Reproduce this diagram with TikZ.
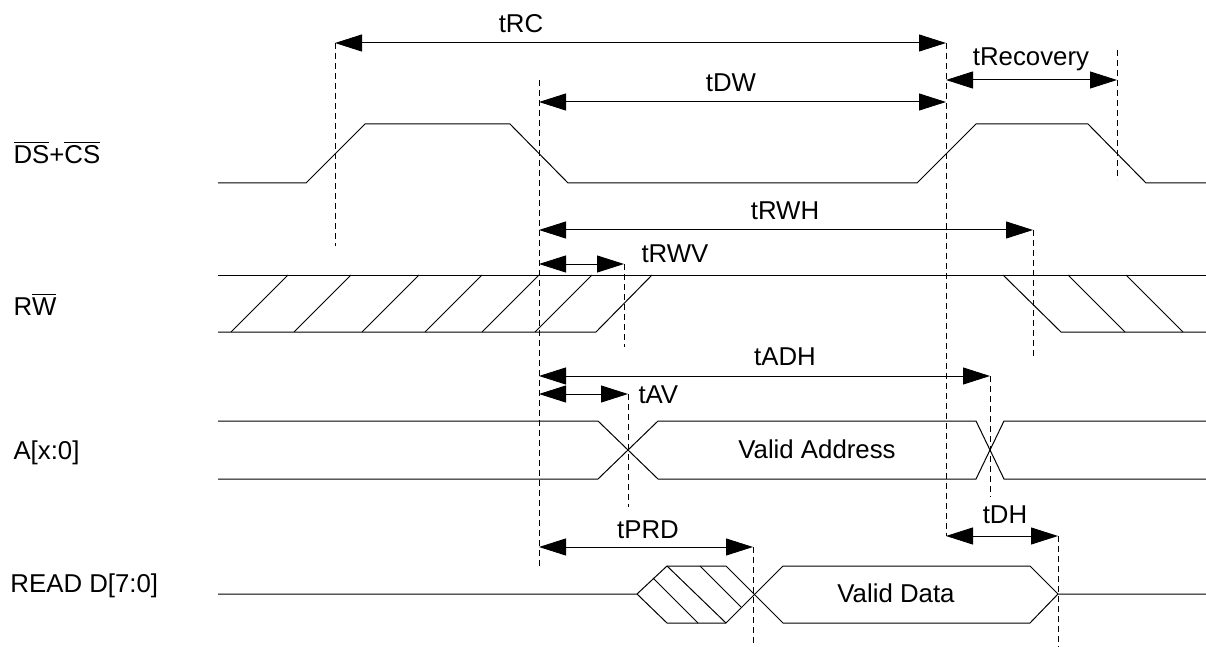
\documentclass[tikz,border=0pt]{standalone}
\usepackage{fontspec}
\setmainfont{Liberation Sans}
\usetikzlibrary{arrows.meta}

\begin{document}
\begin{tikzpicture}[x=0.5pt, y=-0.5pt, line width=0.5pt,
    >={Triangle[length=13.5pt, width=8.5pt]},
    markline/.style={dashed, dash pattern=on 3pt off 2pt},
    lbl/.style={font=\fontsize{12.9}{15}\selectfont, inner sep=0pt, anchor=base}]

    \useasboundingbox (0,0) rectangle (1206,647);

    % Signal names
    \node[lbl, anchor=base west] (sDS) at (13,163) {$\overline{\hbox{DS}}$+$\overline{\hbox{CS}}$};
    \node[lbl, anchor=base west] (sRW) at (13,315) {R$\overline{\hbox{W}}$};
    \node[lbl, anchor=base west] (sA) at (13,459) {A[x:0]};
    \node[lbl, anchor=base west] (sD) at (10,592) {READ D[7:0]};

    % DS+CS
    \draw (218,183) -- (306,183) -- (365,124) -- (510,124) -- (568,183) -- (917,183)
        -- (976,124) -- (1088,124) -- (1146,183) -- (1206,183);

    % RW, don't care up to tRWV and after tRWH
    \draw (218,275) -- (1206,275);
    \draw (218,332) -- (596,332) -- (652,275);
    \foreach \b in {231,294,362,425,482,535}
        \draw (\b,332) -- ++(57,-57);
    \draw (1003,275) -- (1061,332) -- (1206,332);
    \foreach \t in {1068,1126}
        \draw (\t,275) -- ++(57,57);

    % A[x:0]
    \draw (218,421) -- (598,421) -- (658,479) -- (976,479) -- (1004,421) -- (1206,421);
    \draw (218,479) -- (598,479) -- (658,421) -- (976,421) -- (1004,479) -- (1206,479);
    \node[lbl] (vAddr) at (817,458) {Valid Address};

    % READ D[7:0]
    \draw (218,594) -- (637,594) -- (667,566) -- (726,566) -- (783,623) -- (1030,623)
        -- (1058,594) -- (1206,594);
    \draw (637,594) -- (667,623) -- (726,623) -- (783,566) -- (1030,566) -- (1058,594);
    \draw (653,578) -- (698,623);
    \draw (667,566) -- (726,623);
    \draw (700,566) -- (741,607);
    \node[lbl] (vData) at (896,602) {Valid Data};

    % Reference points
    \coordinate (rcL) at (335,43);   \coordinate (rcR) at (946,43);
    \coordinate (dwL) at (539,102);  \coordinate (dwR) at (946,102);
    \coordinate (recL) at (946,80);  \coordinate (recR) at (1117,80);
    \coordinate (rwhL) at (539,230); \coordinate (rwhR) at (1033,230);
    \coordinate (rwvL) at (539,264); \coordinate (rwvR) at (624,264);
    \coordinate (adhL) at (539,376); \coordinate (adhR) at (990,376);
    \coordinate (avL) at (539,394);  \coordinate (avR) at (628,394);
    \coordinate (prdL) at (539,547); \coordinate (prdR) at (753,547);
    \coordinate (dhL) at (946,536);  \coordinate (dhR) at (1058,536);

    % Dashed markers
    \draw[markline] (rcL) -- (335,246);
    \draw[markline] (539,80) -- (539,568);
    \draw[markline] (rcR) -- (dhL);
    \draw[markline] (1117,50) -- (1117,180);
    \draw[markline] (rwhR) -- (1033,358);
    \draw[markline] (rwvR) -- (624,347);
    \draw[markline] (adhR) -- (990,497);
    \draw[markline] (avR) -- (628,507);
    \draw[markline] (prdR) -- (753,647);
    \draw[markline] (dhR) -- (1058,647);

    % Timing arrows
    \draw[<->] (rcL) -- (rcR);
    \node[lbl] (lRC) at (521,33) {tRC};
    \draw[<->] (dwL) -- (dwR);
    \node[lbl] (lDW) at (731,92) {tDW};
    \draw[<->] (recL) -- (recR);
    \node[lbl] (lRec) at (1031,66) {tRecovery};
    \draw[<->] (rwhL) -- (rwhR);
    \node[lbl] (lRWH) at (785,220) {tRWH};
    \draw[<->] (rwvL) -- (rwvR);
    \node[lbl, anchor=base west] (lRWV) at (641,263) {tRWV};
    \draw[<->] (adhL) -- (adhR);
    \node[lbl] (lADH) at (785,365) {tADH};
    \draw[<->] (avL) -- (avR);
    \node[lbl, anchor=base west] (lAV) at (638,403) {tAV};
    \draw[<->] (prdL) -- (prdR);
    \node[lbl] (lPRD) at (648,538) {tPRD};
    \draw[<->] (dhL) -- (dhR);
    \node[lbl] (lDH) at (1005,523) {tDH};

\end{tikzpicture}
\end{document}
